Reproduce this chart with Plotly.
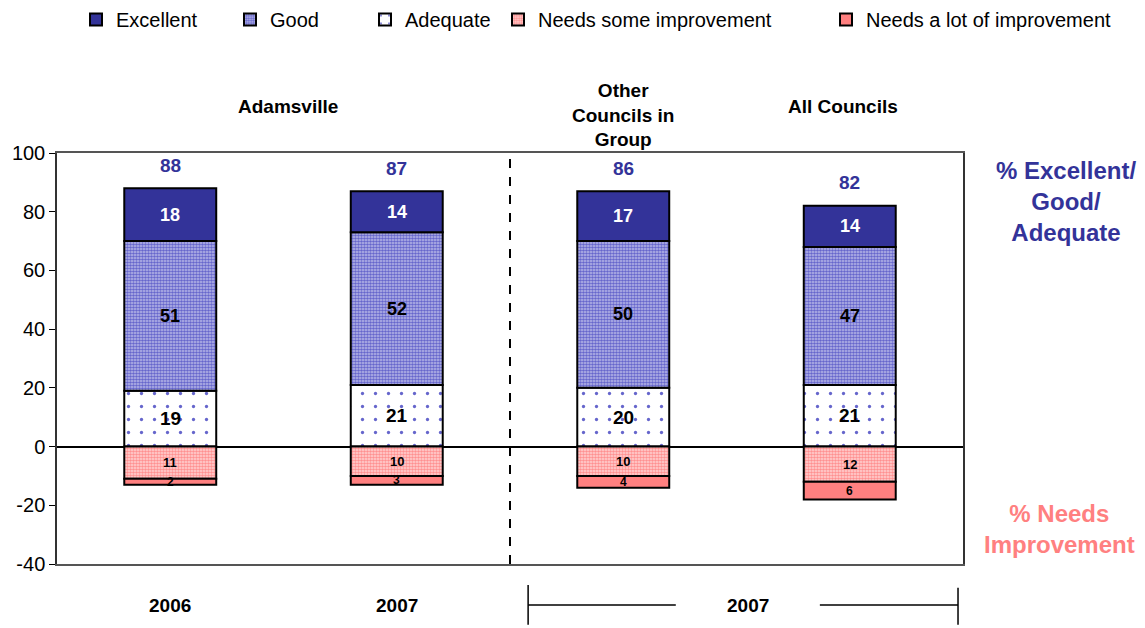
import plotly.graph_objects as go

categories = ["Adamsville 2006", "Adamsville 2007", "Other Councils in Group 2007", "All Councils 2007"]
excellent = [18, 14, 17, 14]
good = [51, 52, 50, 47]
adequate = [19, 21, 20, 21]
needs_some = [-11, -10, -10, -12]
needs_lot = [-2, -3, -4, -6]
totals = [88, 87, 86, 82]
group_labels = ["Adamsville", "Other<br>Councils in<br>Group", "All Councils"]
year_labels = ["2006", "2007", "2007"]
yticks = [-40, -20, 0, 20, 40, 60, 80, 100]

FONT = "Liberation Sans, Arial, sans-serif"
BLUE = "#333399"
PINK = "#FF8080"

fig = go.Figure()

line = dict(color="black", width=2)

# positive stack (bottom to top): Adequate, Good, Excellent
fig.add_trace(go.Bar(
    x=categories, y=adequate, name="Adequate", legend="legend3",
    marker=dict(color="white", line=line,
                pattern=dict(shape=".", fgcolor="#6666CC", bgcolor="white", size=13, solidity=0.05, fillmode="replace")),
))
fig.add_trace(go.Bar(
    x=categories, y=good, name="Good", legend="legend2",
    marker=dict(color="#A0A0DD", line=line,
                pattern=dict(shape=".", fgcolor="#6666CC", bgcolor="#BEBEEA", size=3, solidity=0.6, fillmode="replace")),
))
fig.add_trace(go.Bar(
    x=categories, y=excellent, name="Excellent", legend="legend",
    marker=dict(color=BLUE, line=line),
))
# negative stack
fig.add_trace(go.Bar(
    x=categories, y=needs_some, name="Needs some improvement", legend="legend4",
    marker=dict(color="#FFC0C0", line=line,
                pattern=dict(shape=".", fgcolor="#FF9090", bgcolor="#FFD6D6", size=3, solidity=0.55, fillmode="replace")),
))
fig.add_trace(go.Bar(
    x=categories, y=needs_lot, name="Needs a lot of improvement", legend="legend5",
    marker=dict(color=PINK, line=line),
))

annotations = []

def seg_labels(vals, base, color, size):
    out = []
    for i, (v, b) in enumerate(zip(vals, base)):
        out.append(dict(x=categories[i], y=b + v / 2, xref="x", yref="y", text=f"<b>{abs(v)}</b>",
                        xanchor="center", yanchor="middle",
                        showarrow=False, font=dict(family=FONT, size=size, color=color)))
    return out

zero = [0, 0, 0, 0]
annotations += seg_labels(adequate, zero, "black", 19)
annotations += seg_labels(good, adequate, "black", 18)
annotations += seg_labels(excellent, [a + g for a, g in zip(adequate, good)], "white", 18)
annotations += seg_labels(needs_some, zero, "black", 13)
annotations += seg_labels(needs_lot, needs_some, "black", 12)

pos_tops = [a + g + e for a, g, e in zip(adequate, good, excellent)]
for i, t in enumerate(totals):
    annotations.append(dict(x=categories[i], y=pos_tops[i], xref="x", yref="y", text=f"<b>{t}</b>",
                            xanchor="center", yanchor="middle",
                            showarrow=False, yshift=23, font=dict(family=FONT, size=19, color=BLUE)))

def paper_text(xp, yp, txt, size, color):
    return dict(x=xp, y=yp, xref="paper", yref="paper", text=txt, showarrow=False,
                xanchor="center", yanchor="middle", font=dict(family=FONT, size=size, color=color))

# group headings
annotations.append(paper_text(0.255, 1.112, f"<b>{group_labels[0]}</b>", 19, "black"))
annotations.append(paper_text(0.625, 1.0925, f"<b>{group_labels[1]}</b>", 19, "black"))
annotations.append(paper_text(0.8675, 1.112, f"<b>{group_labels[2]}</b>", 19, "black"))

# year labels
annotations.append(paper_text(0.125, -0.0998, f"<b>{year_labels[0]}</b>", 19, "black"))
annotations.append(paper_text(0.375, -0.0998, f"<b>{year_labels[1]}</b>", 19, "black"))
annotations.append(paper_text(0.763, -0.0998, f"<b>{year_labels[2]}</b>", 19, "black"))

# right side texts
annotations.append(paper_text(1.1137, 0.883, "<b>% Excellent/<br>Good/<br>Adequate</b>", 24, BLUE))
annotations.append(paper_text(1.107, 0.084, "<b>% Needs<br>Improvement</b>", 24, PINK))

shapes = [
    dict(type="line", xref="x", yref="paper", x0=1.5, x1=1.5, y0=0, y1=1,
         line=dict(color="black", width=2, dash="dash")),
    dict(type="line", xref="paper", yref="paper", x0=0.52, x1=0.683, y0=-0.0998, y1=-0.0998,
         line=dict(color="black", width=1.5)),
    dict(type="line", xref="paper", yref="paper", x0=0.842, x1=0.9945, y0=-0.0998, y1=-0.0998,
         line=dict(color="black", width=1.5)),
    dict(type="line", xref="paper", yref="paper", x0=0.52, x1=0.52, y0=-0.051, y1=-0.148,
         line=dict(color="black", width=1.5)),
    dict(type="line", xref="paper", yref="paper", x0=0.9945, x1=0.9945, y0=-0.058, y1=-0.148,
         line=dict(color="black", width=1.5)),
]

def leg(x_px):
    return dict(orientation="h", x=x_px / 1145, xref="container", y=1.0, yref="container",
                yanchor="top", xanchor="left", font=dict(family=FONT, size=20, color="black"),
                bgcolor="rgba(0,0,0,0)")

fig.update_layout(
    width=1145, height=628,
    margin=dict(l=57, r=182, t=153, b=64),
    barmode="relative", bargap=0.594,
    plot_bgcolor="white", paper_bgcolor="white",
    font=dict(family=FONT, size=20, color="black"),
    showlegend=True,
    legend=leg(76), legend2=leg(230), legend3=leg(365), legend4=leg(498), legend5=leg(826),
    annotations=annotations, shapes=shapes,
    xaxis=dict(showticklabels=False, ticks="", showgrid=False, showline=True, linecolor="#555555",
               linewidth=1.5, mirror=True, range=[-0.5, 3.5]),
    yaxis=dict(range=[-40, 100], tickvals=yticks, ticktext=[str(v) for v in yticks],
               ticks="outside", ticklen=6, tickcolor="black",
               showgrid=False, showline=True, linecolor="#333333", linewidth=1.5, mirror=True,
               zeroline=True, zerolinecolor="black", zerolinewidth=2,
               tickfont=dict(family=FONT, size=20, color="black")),
)

fig.write_html("out.html")
